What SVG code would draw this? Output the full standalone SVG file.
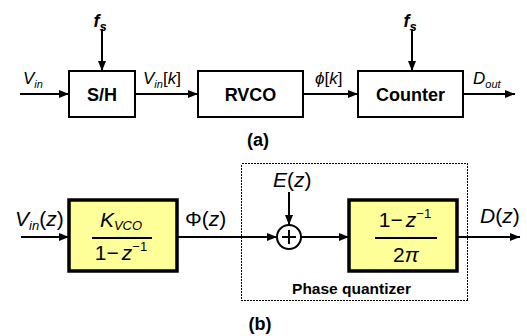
<svg xmlns="http://www.w3.org/2000/svg" width="527" height="336" viewBox="0 0 527 336">
<defs>
<marker id="ah" markerWidth="10" markerHeight="8" refX="10" refY="4" orient="auto" markerUnits="userSpaceOnUse">
<path d="M0,0 L10,4 L0,8 Z" fill="#000"/>
</marker>
<style>
.blk{fill:#fff;stroke:#000;stroke-width:2}
.yb{fill:#FFFF99;stroke:#000;stroke-width:3.5}
.ln{stroke:#000;stroke-width:2;fill:none}
.ar{stroke:#000;stroke-width:2;fill:none;marker-end:url(#ah)}
.bt{font-family:"Liberation Sans",Arial,sans-serif;font-weight:bold;font-size:18px;text-anchor:middle}
.lb{font-family:"Liberation Sans",Arial,sans-serif;font-size:16px}
.lb2{font-family:"Liberation Sans",Arial,sans-serif;font-size:21px}
.it{font-style:italic}
.sub{font-size:11px}
.sub2{font-size:13px}
</style>
</defs>
<rect width="527" height="336" fill="#fff"/>

<g id="connectors">
<line class="ar" x1="20" y1="94" x2="69" y2="94"/>
<line class="ar" x1="102" y1="29" x2="102" y2="71"/>
<line class="ar" x1="135" y1="94" x2="198" y2="94"/>
<line class="ar" x1="303" y1="94" x2="358" y2="94"/>
<line class="ar" x1="412" y1="29" x2="412" y2="71"/>
<line class="ar" x1="463" y1="94" x2="515" y2="94"/>
<line class="ar" x1="21" y1="237" x2="69" y2="237"/>
<line class="ar" x1="177" y1="237" x2="277" y2="237"/>
<line class="ar" x1="289" y1="192" x2="289" y2="225"/>
<line class="ar" x1="301" y1="237" x2="349" y2="237"/>
<line class="ar" x1="457" y1="237" x2="520" y2="237"/>
</g>

<g id="labels-a">
<text class="lb" x="23" y="84" style="font-size:17px"><tspan class="it">V</tspan><tspan class="it sub" dy="4">in</tspan></text>
<text class="lb" x="143" y="84" style="font-size:17px"><tspan class="it">V</tspan><tspan class="it sub" dy="4">in</tspan><tspan dy="-4">[</tspan><tspan class="it">k</tspan><tspan>]</tspan></text>
<text class="lb" x="315" y="84" style="font-size:17px"><tspan class="it">ϕ</tspan><tspan>[</tspan><tspan class="it">k</tspan><tspan>]</tspan></text>
<text class="lb" x="473" y="84" style="font-size:17px"><tspan class="it">D</tspan><tspan class="it sub" dy="4">out</tspan></text>
<text class="bt it" x="100" y="27">f<tspan class="sub2" dy="4">s</tspan></text>
<text class="bt it" x="410" y="27">f<tspan class="sub2" dy="4">s</tspan></text>
<text class="bt" x="258" y="146">(a)</text>
</g>

<g id="sh"><rect class="blk" x="69" y="71" width="66" height="46"/><text class="bt" x="102" y="100.5">S/H</text></g>
<g id="rvco"><rect class="blk" x="198" y="71" width="105" height="46"/><text class="bt" x="250.5" y="100.5">RVCO</text></g>
<g id="counter"><rect class="blk" x="358" y="71" width="105" height="46"/><text class="bt" x="410.5" y="100.5">Counter</text></g>

<g id="phase-quantizer">
<rect x="241.5" y="163.5" width="226" height="137" fill="none" stroke="#000" stroke-width="1" stroke-dasharray="2,1" shape-rendering="crispEdges"/>
<text class="bt" x="351.5" y="294" style="font-size:15.5px">Phase quantizer</text>
</g>

<g id="kvco">
<rect class="yb" x="69" y="200" width="108" height="71"/>
<line class="ln" x1="92" y1="238" x2="152" y2="238" stroke-width="1.3"/>
<text class="lb2" x="121" y="227" text-anchor="middle"><tspan class="it">K</tspan><tspan class="it sub2" dy="3">VCO</tspan></text>
<text class="lb2" x="121" y="260" text-anchor="middle">1−<tspan class="it" dx="3">z</tspan><tspan class="sub2" dy="-9">−1</tspan></text>
</g>

<g id="sum">
<circle cx="289" cy="237" r="12" fill="#fff" stroke="#000" stroke-width="2"/>
<line class="ln" x1="282" y1="237" x2="296" y2="237" stroke-width="2.5"/>
<line class="ln" x1="289" y1="230" x2="289" y2="244" stroke-width="2.5"/>
</g>

<g id="diff">
<rect class="yb" x="349" y="200" width="108" height="71"/>
<line class="ln" x1="375" y1="238" x2="437" y2="238" stroke-width="1.3"/>
<text class="lb2" x="405" y="227" text-anchor="middle">1−<tspan class="it" dx="3">z</tspan><tspan class="sub2" dy="-9">−1</tspan></text>
<text class="lb2" x="406" y="262" text-anchor="middle">2<tspan class="it">π</tspan></text>
</g>

<g id="labels-b">
<text class="lb2" x="15" y="226"><tspan class="it">V</tspan><tspan class="it sub2" dy="4">in</tspan><tspan dy="-4">(</tspan><tspan class="it">z</tspan><tspan>)</tspan></text>
<text class="lb2" x="185" y="226">Φ(<tspan class="it">z</tspan>)</text>
<text class="lb2" x="273" y="187"><tspan class="it">E</tspan>(<tspan class="it">z</tspan>)</text>
<text class="lb2" x="480" y="223"><tspan class="it">D</tspan>(<tspan class="it">z</tspan>)</text>
<text class="bt" x="260" y="330">(b)</text>
</g>
</svg>
